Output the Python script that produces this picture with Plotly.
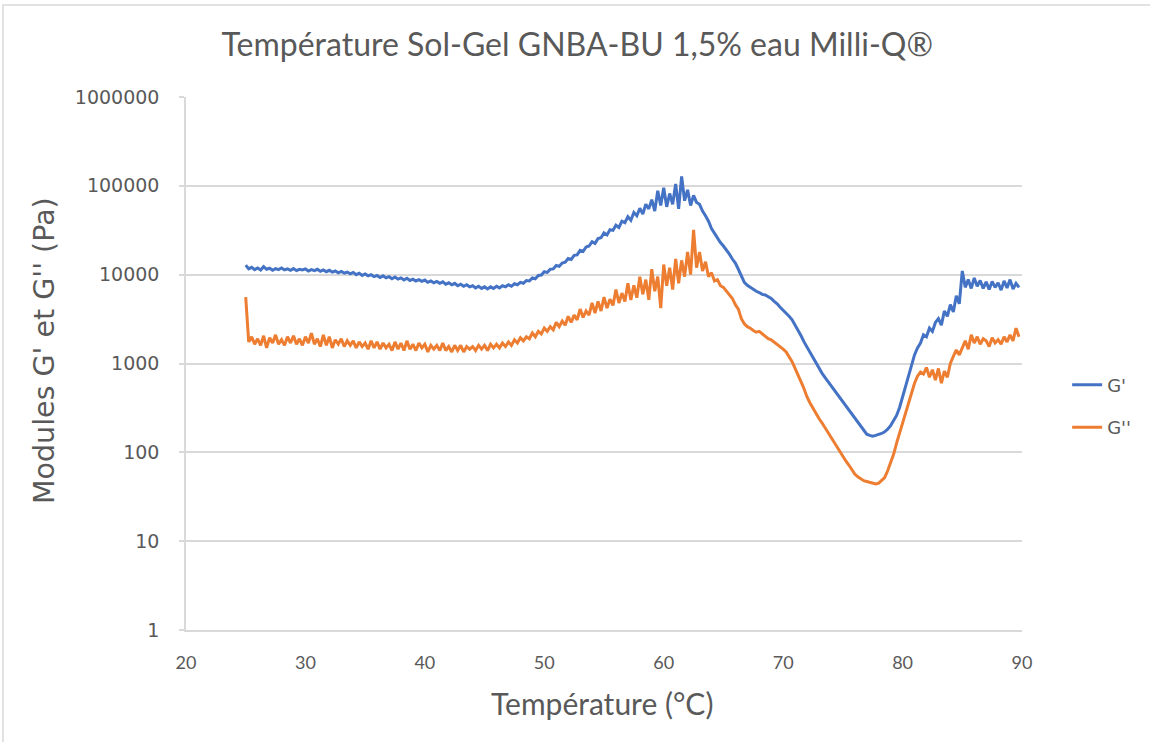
import numpy as np
import plotly.graph_objects as go

# Temperature sweep, 0.25 °C sampling (°C)
temperature = np.arange(25.0, 89.76, 0.25)

# Storage modulus G' (Pa), four readings per degree
g_prime = [
    12800, 11600, 12100, 11400,  # 25
    11900, 11300, 12300, 11500,  # 26
    11800, 11200, 11700, 11400,  # 27
    11900, 11300, 11600, 11200,  # 28
    11700, 11100, 11500, 11300,  # 29
    11600, 11000, 11400, 11100,  # 30
    11500, 10900, 11300, 10800,  # 31
    11200, 10700, 11000, 10500,  # 32
    10900, 10400, 10700, 10200,  # 33
    10600, 10000, 10400, 9800,   # 34
    10200, 9700, 10000, 9500,    # 35
    9800, 9300, 9700, 9200,      # 36
    9500, 9000, 9400, 8900,      # 37
    9200, 8700, 9100, 8600,      # 38
    8900, 8500, 8800, 8400,      # 39
    8700, 8200, 8500, 8100,      # 40
    8400, 8000, 8300, 7800,      # 41
    8100, 7700, 8000, 7500,      # 42
    7800, 7400, 7700, 7300,      # 43
    7500, 7100, 7400, 7000,      # 44
    7300, 6900, 7300, 7000,      # 45
    7400, 7100, 7500, 7300,      # 46
    7700, 7400, 7900, 7700,      # 47
    8200, 8000, 8600, 8500,      # 48
    9200, 9000, 9800, 9900,      # 49
    10800, 10600, 11500, 11600,  # 50
    12700, 12400, 13500, 13800,  # 51
    15200, 14800, 16500, 16700,  # 52
    18800, 18300, 20500, 21000,  # 53
    23500, 22500, 25500, 26000,  # 54
    29500, 28000, 32000, 31500,  # 55
    36000, 34000, 40000, 38500,  # 56
    45000, 41000, 50000, 46000,  # 57
    56000, 48000, 62000, 55000,  # 58
    70000, 52000, 88000, 60000,  # 59
    95000, 58000, 82000, 62000,  # 60
    105000, 55000, 128000, 68000,  # 61
    90000, 60000, 78000, 65000,  # 62
    62000, 52000, 46000, 40000,  # 63
    33000, 29000, 26000, 23000,  # 64
    21000, 19000, 17000, 15000,  # 65
    13500, 11500, 9500, 8200,    # 66
    7600, 7200, 6900, 6500,      # 67
    6300, 6000, 5900, 5600,      # 68
    5400, 5000, 4700, 4300,      # 69
    4000, 3700, 3400, 3100,      # 70
    2700, 2400, 2050, 1750,      # 71
    1530, 1320, 1150, 1000,      # 72
    880, 780, 700, 630,          # 73
    570, 510, 460, 410,          # 74
    370, 330, 295, 265,          # 75
    240, 215, 195, 178,          # 76
    160, 155, 152, 155,          # 77
    158, 163, 170, 182,          # 78
    200, 225, 260, 320,          # 79
    420, 560, 760, 1000,         # 80
    1250, 1500, 1700, 2100,      # 81
    2000, 2500, 2300, 2900,      # 82
    3200, 2700, 3900, 3400,      # 83
    4600, 3800, 5800, 4700,      # 84
    11000, 7200, 8800, 7000,     # 85
    9200, 7400, 8600, 7000,      # 86
    8300, 6800, 8400, 7200,      # 87
    8100, 6700, 8500, 7100,      # 88
    8800, 6900, 8000, 7200,      # 89
]

# Loss modulus G'' (Pa), four readings per degree
g_second = [
    5600, 1750, 2000, 1650,      # 25
    1900, 1600, 2050, 1500,      # 26
    1950, 1700, 2100, 1650,      # 27
    1850, 1600, 2000, 1700,      # 28
    2050, 1650, 1900, 1600,      # 29
    2000, 1700, 2200, 1650,      # 30
    1900, 1550, 2100, 1600,      # 31
    2000, 1500, 1850, 1650,      # 32
    1900, 1550, 1800, 1600,      # 33
    1800, 1500, 1750, 1550,      # 34
    1700, 1450, 1800, 1500,      # 35
    1750, 1450, 1700, 1500,      # 36
    1650, 1400, 1750, 1450,      # 37
    1700, 1400, 1800, 1450,      # 38
    1650, 1400, 1700, 1500,      # 39
    1650, 1350, 1600, 1450,      # 40
    1600, 1400, 1700, 1400,      # 41
    1550, 1350, 1600, 1400,      # 42
    1600, 1350, 1550, 1450,      # 43
    1550, 1400, 1600, 1450,      # 44
    1600, 1400, 1650, 1500,      # 45
    1650, 1500, 1700, 1550,      # 46
    1750, 1600, 1850, 1700,      # 47
    1950, 1800, 2000, 1900,      # 48
    2200, 2000, 2300, 2150,      # 49
    2500, 2300, 2600, 2400,      # 50
    2900, 2600, 3000, 2700,      # 51
    3400, 2900, 3500, 3100,      # 52
    4100, 3300, 3900, 3500,      # 53
    4800, 3700, 5000, 3900,      # 54
    5600, 4200, 5300, 4500,      # 55
    6800, 4800, 6200, 5000,      # 56
    8000, 5200, 7600, 5500,      # 57
    9500, 6000, 8800, 5200,      # 58
    11500, 6500, 9500, 4200,     # 59
    13000, 7500, 12000, 6800,    # 60
    15000, 8000, 14500, 9500,    # 61
    18000, 10000, 32000, 12000,  # 62
    18000, 11000, 14000, 9500,   # 63
    10500, 8500, 8800, 7500,     # 64
    7200, 6600, 6000, 5400,      # 65
    4600, 4100, 3200, 2800,      # 66
    2600, 2500, 2350, 2250,      # 67
    2300, 2150, 2050, 1900,      # 68
    1850, 1750, 1650, 1550,      # 69
    1450, 1350, 1200, 1050,      # 70
    880, 720, 620, 520,          # 71
    420, 360, 310, 270,          # 72
    240, 215, 190, 165,          # 73
    145, 128, 115, 102,          # 74
    90, 80, 72, 64,              # 75
    57, 53, 50, 48,              # 76
    47, 46, 45, 44,              # 77
    45, 48, 52, 62,              # 78
    75, 95, 127, 165,            # 79
    210, 270, 350, 460,          # 80
    600, 720, 800, 760,          # 81
    900, 700, 850, 650,          # 82
    880, 600, 820, 700,          # 83
    1000, 1200, 1420, 1250,      # 84
    1500, 1800, 1450, 2100,      # 85
    1700, 2000, 1650, 1900,      # 86
    1800, 1550, 1950, 1700,      # 87
    1850, 1650, 2000, 1750,      # 88
    2100, 1800, 2500, 2000,      # 89
]

series_names = ["G'", "G''"]
series_colors = ["#4472C4", "#ED7D31"]

y_tick_values = [1, 10, 100, 1000, 10000, 100000, 1000000]
y_tick_labels = ["1", "10", "100", "1000", "10000", "100000", "1000000"]
x_tick_values = [20, 30, 40, 50, 60, 70, 80, 90]

TEXT = "#595959"
GRID = "#D9D9D9"

fig = go.Figure()
for name, values, color in zip(series_names, [g_prime, g_second], series_colors):
    fig.add_trace(go.Scatter(
        x=temperature, y=values, name=name, mode="lines",
        line=dict(color=color, width=3),
        legendgroup=name,
    ))

fig.update_layout(
    width=1150, height=742,
    margin=dict(l=186, r=128, t=97, b=112),
    paper_bgcolor="white", plot_bgcolor="white",
    showlegend=True,
    title=dict(
        text="Température Sol-Gel GNBA-BU 1,5% eau Milli-Q®",
        x=0.502, xref="container", xanchor="center",
        y=1 - 45 / 742, yref="container", yanchor="middle",
        font=dict(family="Lato", size=32, color=TEXT),
    ),
    legend=dict(
        x=1.054, xanchor="left", y=0.42, yanchor="middle",
        font=dict(family="DejaVu Sans", size=18, color=TEXT),
        tracegroupgap=16, bgcolor="rgba(0,0,0,0)",
    ),
    xaxis=dict(
        range=[20, 90], tickvals=x_tick_values,
        showgrid=False, zeroline=False,
        showline=True, linecolor=GRID, linewidth=1.5,
        ticks="", ticklabelstandoff=16,
        tickfont=dict(family="Lato", size=18, color=TEXT),
    ),
    yaxis=dict(
        type="log", range=[0, 6],
        tickvals=y_tick_values, ticktext=y_tick_labels,
        showgrid=True, gridcolor=GRID, gridwidth=1.5,
        zeroline=False,
        showline=True, linecolor=GRID, linewidth=1.5,
        ticks="outside", ticklen=5, tickcolor=GRID, tickwidth=1.5,
        ticklabelstandoff=16,
        tickfont=dict(family="DejaVu Sans", size=19, color=TEXT),
    ),
    annotations=[
        dict(text="Température (°C)", xref="paper", yref="paper",
             x=0.4976, y=(630 - 703) / 533, xanchor="center", yanchor="middle",
             showarrow=False, font=dict(family="Lato", size=30, color=TEXT)),
        dict(text="Modules G' et G'' (Pa)", xref="paper", yref="paper",
             x=(44 - 186) / 836, y=(630 - 351) / 533, xanchor="center", yanchor="middle",
             textangle=-90, showarrow=False,
             font=dict(family="DejaVu Sans", size=28.5, color=TEXT)),
    ],
    shapes=[
        dict(type="rect", xref="paper", yref="paper",
             x0=(3 - 186) / 836, x1=(1160 - 186) / 836,
             y0=(630 - 750) / 533, y1=(630 - 5) / 533,
             line=dict(color=GRID, width=1.5), fillcolor="rgba(0,0,0,0)",
             layer="below"),
    ],
)

fig.write_html("out.html")
